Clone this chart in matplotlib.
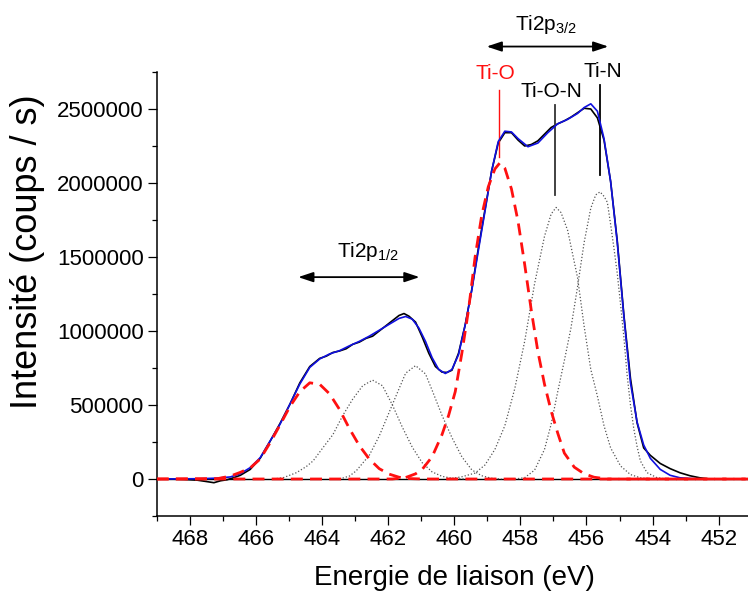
import matplotlib
matplotlib.use("Agg")
import matplotlib.pyplot as plt
from matplotlib.ticker import MultipleLocator, FormatStrFormatter

plt.rcParams['font.family'] = ['Liberation Sans', 'DejaVu Sans']
plt.rcParams['mathtext.fontset'] = 'custom'
plt.rcParams['mathtext.rm'] = 'Liberation Sans'
plt.rcParams['mathtext.it'] = 'Liberation Sans'

# measured spectrum (black)
mes_e = [469, 468.67, 468.17, 467.77, 467.47, 467.27, 467.07, 466.87, 466.67, 466.47,
         466.17, 465.87, 465.57, 465.27, 464.97, 464.67, 464.37, 464.07, 463.87, 463.67,
         463.47, 463.27, 463.07, 462.87, 462.67, 462.47, 462.27, 462.07, 461.87, 461.67,
         461.52, 461.37, 461.17, 460.97, 460.77, 460.57, 460.37, 460.22, 460.07, 459.87,
         459.67, 459.47, 459.27, 459.07, 458.87, 458.67, 458.47, 458.27, 458.07, 457.87,
         457.67, 457.47, 457.27, 457.07, 456.87, 456.67, 456.47, 456.27, 456.07, 455.87,
         455.67, 455.47, 455.27, 455.07, 454.87, 454.67, 454.47, 454.27, 454.07, 453.77,
         453.47, 453.17, 452.87, 452.57, 452.27, 451]
mes_i = [0, 0, -3000, -8000, -18000, -25000, -12000, -5000, 9000, 25000,
         65000, 140000, 255000, 375000, 505000, 650000, 760000, 815000, 830000, 855000,
         865000, 880000, 910000, 925000, 950000, 965000, 1000000, 1035000, 1070000, 1105000,
         1118000, 1100000, 1060000, 960000, 850000, 760000, 722000, 720000, 735000, 850000,
         1040000, 1280000, 1560000, 1820000, 2080000, 2270000, 2340000, 2340000, 2290000, 2250000,
         2260000, 2285000, 2330000, 2375000, 2400000, 2420000, 2445000, 2475000, 2505000, 2500000,
         2440000, 2290000, 2010000, 1610000, 1110000, 680000, 380000, 210000, 160000, 105000,
         70000, 42000, 22000, 8000, 0, 0]

# fit envelope (blue)
fit_e = [469, 467.67, 467.17, 466.77, 466.47, 466.17, 465.87, 465.57, 465.27, 464.97,
         464.67, 464.37, 464.07, 463.77, 463.47, 463.17, 462.87, 462.57, 462.27, 461.97,
         461.67, 461.47, 461.27, 461.07, 460.87, 460.67, 460.47, 460.27, 460.07, 459.87,
         459.67, 459.47, 459.27, 459.07, 458.87, 458.67, 458.47, 458.27, 458.07, 457.77,
         457.47, 457.17, 456.87, 456.57, 456.27, 456.07, 455.87, 455.67, 455.47, 455.27,
         455.07, 454.87, 454.67, 454.47, 454.27, 454.07, 453.77, 453.47, 453.17, 452.67,
         452.17, 451]
fit_i = [0, 2000, 6000, 14000, 36000, 77000, 144000, 257000, 370000, 506000,
         642000, 754000, 811000, 845000, 867000, 900000, 930000, 965000, 1005000, 1045000,
         1085000, 1098000, 1080000, 1020000, 930000, 820000, 740000, 713000, 740000, 840000,
         1040000, 1274000, 1545000, 1810000, 2080000, 2280000, 2350000, 2345000, 2300000, 2245000,
         2270000, 2340000, 2400000, 2430000, 2470000, 2510000, 2535000, 2485000, 2300000, 2010000,
         1600000, 1100000, 650000, 385000, 230000, 140000, 65000, 25000, 8000, 1000,
         0, 0]

# Ti-O components (red dashed)
tio1_e = [469, 467.17, 466.77, 466.47, 466.17, 465.87, 465.57, 465.27, 464.97, 464.67,
          464.37, 464.07, 463.77, 463.47, 463.17, 462.87, 462.57, 462.27, 461.97, 461.67,
          461.37, 460.97, 451]
tio1_i = [0, 2000, 20000, 45000, 75000, 135000, 245000, 365000, 490000, 590000,
          650000, 640000, 575000, 470000, 340000, 225000, 135000, 70000, 33000, 12000,
          3000, 0, 0]
tio2_e = [469, 461.87, 461.47, 461.17, 460.97, 460.67, 460.37, 460.17, 459.97, 459.77,
          459.57, 459.37, 459.17, 458.97, 458.77, 458.62, 458.47, 458.27, 458.07, 457.87,
          457.67, 457.47, 457.27, 457.07, 456.87, 456.67, 456.37, 456.07, 455.77, 455.37, 451]
tio2_i = [0, 0, 10000, 35000, 65000, 150000, 300000, 430000, 590000, 850000,
          1140000, 1499000, 1780000, 1975000, 2095000, 2136000, 2100000, 1960000, 1740000, 1450000,
          1140000, 860000, 640000, 460000, 310000, 175000, 80000, 35000, 12000, 0, 0]

# other components (grey dotted)
c1_e = [465.47, 465.17, 464.77, 464.47, 464.27, 463.97, 463.67, 463.37, 463.07, 462.77,
        462.47, 462.17, 461.87, 461.57, 461.27, 460.97, 460.67, 460.37, 460.07, 459.67]
c1_i = [0, 9000, 43000, 85000, 122000, 212000, 300000, 430000, 540000, 630000,
        668000, 630000, 500000, 350000, 215000, 110000, 48000, 18000, 5000, 0]
c2_e = [463.47, 463.17, 462.97, 462.57, 462.27, 461.97, 461.67, 461.47, 461.17, 460.87,
        460.67, 460.37, 460.07, 459.77, 459.47, 459.17, 458.87, 458.57]
c2_i = [0, 20000, 54000, 160000, 290000, 450000, 610000, 715000, 766000, 710000,
        600000, 430000, 280000, 150000, 62000, 22000, 5000, 0]
tion_e = [460.17, 459.77, 459.37, 459.07, 458.77, 458.47, 458.17, 457.87, 457.57, 457.27,
          457.07, 456.92, 456.77, 456.57, 456.27, 456.07, 455.87, 455.67, 455.47, 455.27,
          454.97, 454.67, 454.37, 453.97]
tion_i = [0, 15000, 40000, 95000, 200000, 360000, 610000, 930000, 1320000, 1640000,
          1790000, 1835000, 1800000, 1680000, 1360000, 1030000, 740000, 560000, 360000, 210000,
          88000, 30000, 8000, 0]
tin_e = [458.17, 457.87, 457.57, 457.27, 457.07, 456.87, 456.67, 456.47, 456.27, 456.07,
         455.87, 455.72, 455.59, 455.47, 455.37, 455.27, 455.17, 455.07, 454.97, 454.87,
         454.77, 454.67, 454.57, 454.47, 454.37, 454.17, 453.87, 453.57]
tin_i = [0, 9000, 60000, 200000, 370000, 590000, 800000, 1020000, 1300000, 1600000,
         1830000, 1920000, 1940000, 1910000, 1870000, 1720000, 1560000, 1390000, 1180000, 960000,
         700000, 500000, 340000, 220000, 122000, 43000, 9000, 0]

fig = plt.figure(figsize=(7.48, 5.93), dpi=100)
ax = fig.add_axes([156.7 / 748, 77 / 593, 595.1 / 748, 444 / 593])

ax.axhline(0, color='black', lw=1.0, zorder=1)
ax.plot(mes_e, mes_i, color='black', lw=1.2, zorder=2)
ax.plot(fit_e, fit_i, color='#1010e0', lw=1.2, zorder=3)
for e, i in [(c1_e, c1_i), (c2_e, c2_i), (tion_e, tion_i), (tin_e, tin_i)]:
    ax.plot(e, i, color='#555555', lw=0.9, linestyle=(0, (1, 1.6)), zorder=4)
for e, i in [(tio1_e, tio1_i), (tio2_e, tio2_i)]:
    ax.plot(e, i, color='#ff1010', lw=2.0, linestyle=(0, (4.3, 2.6)), zorder=5)

ax.set_xlim(469, 451)
ax.set_ylim(-250000, 2750000)
ax.xaxis.set_major_locator(MultipleLocator(2))
ax.xaxis.set_minor_locator(MultipleLocator(1))
ax.yaxis.set_major_locator(MultipleLocator(500000))
ax.yaxis.set_minor_locator(MultipleLocator(250000))
ax.yaxis.set_major_formatter(FormatStrFormatter('%d'))
ax.tick_params(which='major', direction='out', length=6.5, width=0.9, labelsize=16, pad=3)
ax.tick_params(which='minor', direction='out', length=3.6, width=0.9)
ax.spines['top'].set_visible(False)
ax.spines['right'].set_visible(False)
ax.spines['left'].set_linewidth(1.1)
ax.spines['bottom'].set_linewidth(1.1)

fig.text(454 / 748, 1 - 578 / 593, 'Energie de liaison (eV)', fontsize=20,
         ha='center', va='center')
fig.text(28 / 748, 1 - 252 / 593, 'Intensité (coups / s)', fontsize=26,
         ha='center', va='center', rotation=90)

# peak labels and marker lines
ax.plot([458.64, 458.64], [2629000, 2177000], color='#ff1010', lw=1.0, clip_on=False)
ax.plot([456.95, 456.95], [2527000, 1917000], color='#333333', lw=1.3, clip_on=False)
ax.plot([455.59, 455.59], [2663000, 2053000], color='black', lw=1.3, clip_on=False)
ax.text(459.37, 2703000, 'Ti-O', color='#ff1010', fontsize=15, ha='left', va='baseline')
ax.text(458.01, 2583000, 'Ti-O-N', color='black', fontsize=15, ha='left', va='baseline')
ax.text(456.10, 2715000, 'Ti-N', color='black', fontsize=15, ha='left', va='baseline')

ax.text(463.56, 1499000, r'Ti2p$_{\mathregular{1/2}}$', fontsize=15, ha='left', va='baseline')
ax.annotate('', xy=(461.05, 1364000), xytext=(464.72, 1364000),
            arrowprops=dict(arrowstyle='<|-|>,head_length=0.6,head_width=0.2',
                            color='black', lw=1.3, mutation_scale=15, shrinkA=0, shrinkB=0))
ax.text(458.16, 3035000, r'Ti2p$_{\mathregular{3/2}}$', fontsize=15, ha='left',
        va='baseline', clip_on=False)
ax.annotate('', xy=(455.34, 2922000), xytext=(459.02, 2922000),
            arrowprops=dict(arrowstyle='<|-|>,head_length=0.6,head_width=0.2',
                            color='black', lw=1.3, mutation_scale=15, shrinkA=0, shrinkB=0),
            annotation_clip=False)

plt.savefig('out.png', dpi=100)
